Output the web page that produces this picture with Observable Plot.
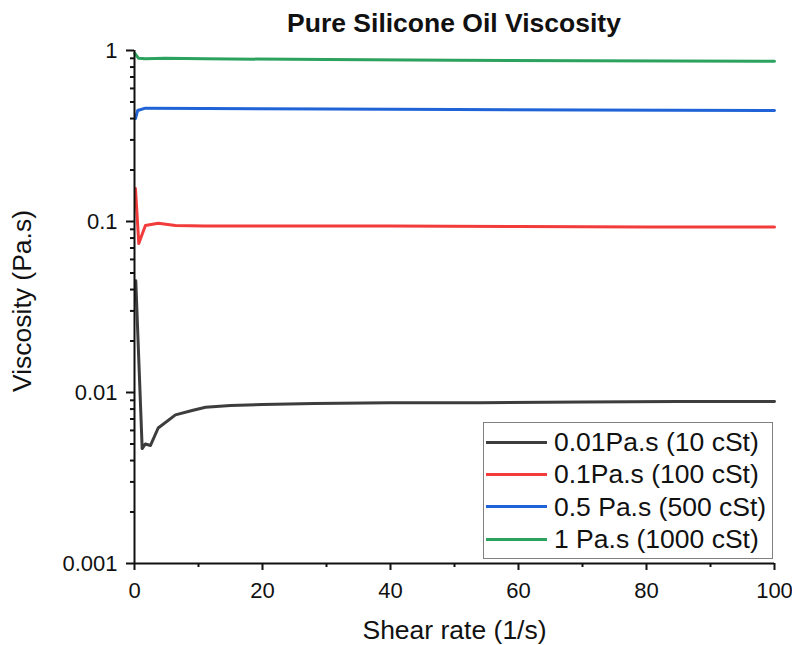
<!DOCTYPE html>
<html><head><meta charset="utf-8">
<script src="https://cdn.jsdelivr.net/npm/d3@7"></script>
<script src="https://cdn.jsdelivr.net/npm/@observablehq/plot@0.6"></script>
<style>
body{margin:0;background:#fff;}
#wrap{position:relative;width:792px;height:645px;font-family:"Liberation Sans",Arial,sans-serif;color:#111;}
#title{position:absolute;left:134px;width:640px;top:10px;text-align:center;font-weight:bold;font-size:26.5px;line-height:26px;}
#chart{position:absolute;left:0;top:0;}
#legend{position:absolute;left:483px;top:422px;width:290px;height:137px;box-sizing:border-box;border:1px solid #808080;background:#fff;padding-top:3px;}
.row{display:flex;align-items:center;height:32.3px;}
.sw{display:inline-block;width:61px;height:3px;margin-left:2px;}
.lb{margin-left:7px;font-size:26.5px;line-height:32px;white-space:nowrap;}
</style></head>
<body><div id="wrap"><div id="chart"></div><div id="title">Pure Silicone Oil Viscosity</div><div id="legend"></div></div>
<script>
const seriesNames = ["0.01Pa.s (10 cSt)", "0.1Pa.s (100 cSt)", "0.5 Pa.s (500 cSt)", "1 Pa.s (1000 cSt)"];
const seriesColors = ["#3d3d3d", "#f23b3b", "#1f63d6", "#2ca25f"];

const shear10 = [0.2, 1.2, 1.7, 2.5, 3.7, 6.4, 9.0, 11.1, 15, 20, 28, 40, 54, 70, 85, 100];
const visc10  = [0.045, 0.0047, 0.0050, 0.0049, 0.0062, 0.0074, 0.00785, 0.0082, 0.0084, 0.0085, 0.00863, 0.0087, 0.0087, 0.0088, 0.00885, 0.00886];

const shear100 = [0.15, 0.67, 1.7, 3.7, 6.4, 11, 20, 40, 60, 80, 100];
const visc100  = [0.156, 0.0743, 0.0948, 0.0977, 0.0948, 0.094, 0.094, 0.094, 0.0935, 0.093, 0.093];

const shear500 = [0.15, 0.5, 1.7, 11, 30, 50, 70, 100];
const visc500  = [0.40, 0.446, 0.46, 0.458, 0.455, 0.452, 0.449, 0.446];

const shear1000 = [0.05, 0.65, 1.7, 4.8, 11, 30, 50, 70, 100];
const visc1000  = [0.96, 0.90, 0.894, 0.90, 0.894, 0.885, 0.878, 0.872, 0.866];

const yMajor = [0.001, 0.01, 0.1, 1];
const yMajorLabels = ["0.001", "0.01", "0.1", "1"];
const xMajor = [0, 20, 40, 60, 80, 100];
const xMinor = [10, 30, 50, 70, 90];
const yMinor = [];
for (const dec of [0.001, 0.01, 0.1]) for (let k = 2; k <= 9; k++) yMinor.push(+(dec * k).toPrecision(3));

const xs = [shear10, shear100, shear500, shear1000];
const ys = [visc10, visc100, visc500, visc1000];
const rows = [];
seriesNames.forEach((name, i) => xs[i].forEach((x, j) => rows.push({series: name, x, y: ys[i][j]})));

const chart = Plot.plot({
  width: 792, height: 645,
  marginTop: 50, marginBottom: 82, marginLeft: 134, marginRight: 18,
  style: {fontFamily: "Liberation Sans, Arial, sans-serif", fontSize: "22px", color: "#111", background: "transparent"},
  x: {domain: [0, 100], label: null},
  y: {type: "log", domain: [0.001, 1], label: null},
  color: {domain: seriesNames, range: seriesColors},
  marks: [
    Plot.axisX(xMajor, {tickSize: 7, tickPadding: 12, strokeWidth: 2, fontSize: 22, label: null}),
    Plot.axisX(xMinor, {tickSize: 4, strokeWidth: 2, tickFormat: () => "", label: null}),
    Plot.axisY(yMajor, {tickSize: 8, tickPadding: 9, strokeWidth: 2, fontSize: 22, label: null,
      tickFormat: d => yMajorLabels[yMajor.indexOf(d)]}),
    Plot.axisY(yMinor, {tickSize: 4, strokeWidth: 2, tickFormat: () => "", label: null}),
    Plot.line(rows, {x: "x", y: "y", z: "series", stroke: "series", strokeWidth: 3, strokeLinejoin: "round"}),
    Plot.ruleX([0], {y1: 0.001, y2: 1, strokeWidth: 2, stroke: "#111"}),
    Plot.ruleY([0.001], {x1: 0, x2: 100, strokeWidth: 2, stroke: "#111"}),
    Plot.text(["Viscosity (Pa.s)"], {frameAnchor: "left", dx: -112, dy: -6, rotate: -90, fontSize: 26.5, textAnchor: "middle", lineAnchor: "middle"}),
    Plot.text(["Shear rate (1/s)"], {frameAnchor: "bottom", dy: 67, fontSize: 26.5, textAnchor: "middle", lineAnchor: "middle"})
  ]
});
document.getElementById("chart").appendChild(chart);

const legend = document.getElementById("legend");
seriesNames.forEach((name, i) => {
  const row = document.createElement("div");
  row.className = "row";
  const sw = document.createElement("span");
  sw.className = "sw";
  sw.style.background = seriesColors[i];
  const lb = document.createElement("span");
  lb.className = "lb";
  lb.textContent = name;
  row.appendChild(sw); row.appendChild(lb);
  legend.appendChild(row);
});
</script>
</body></html>
